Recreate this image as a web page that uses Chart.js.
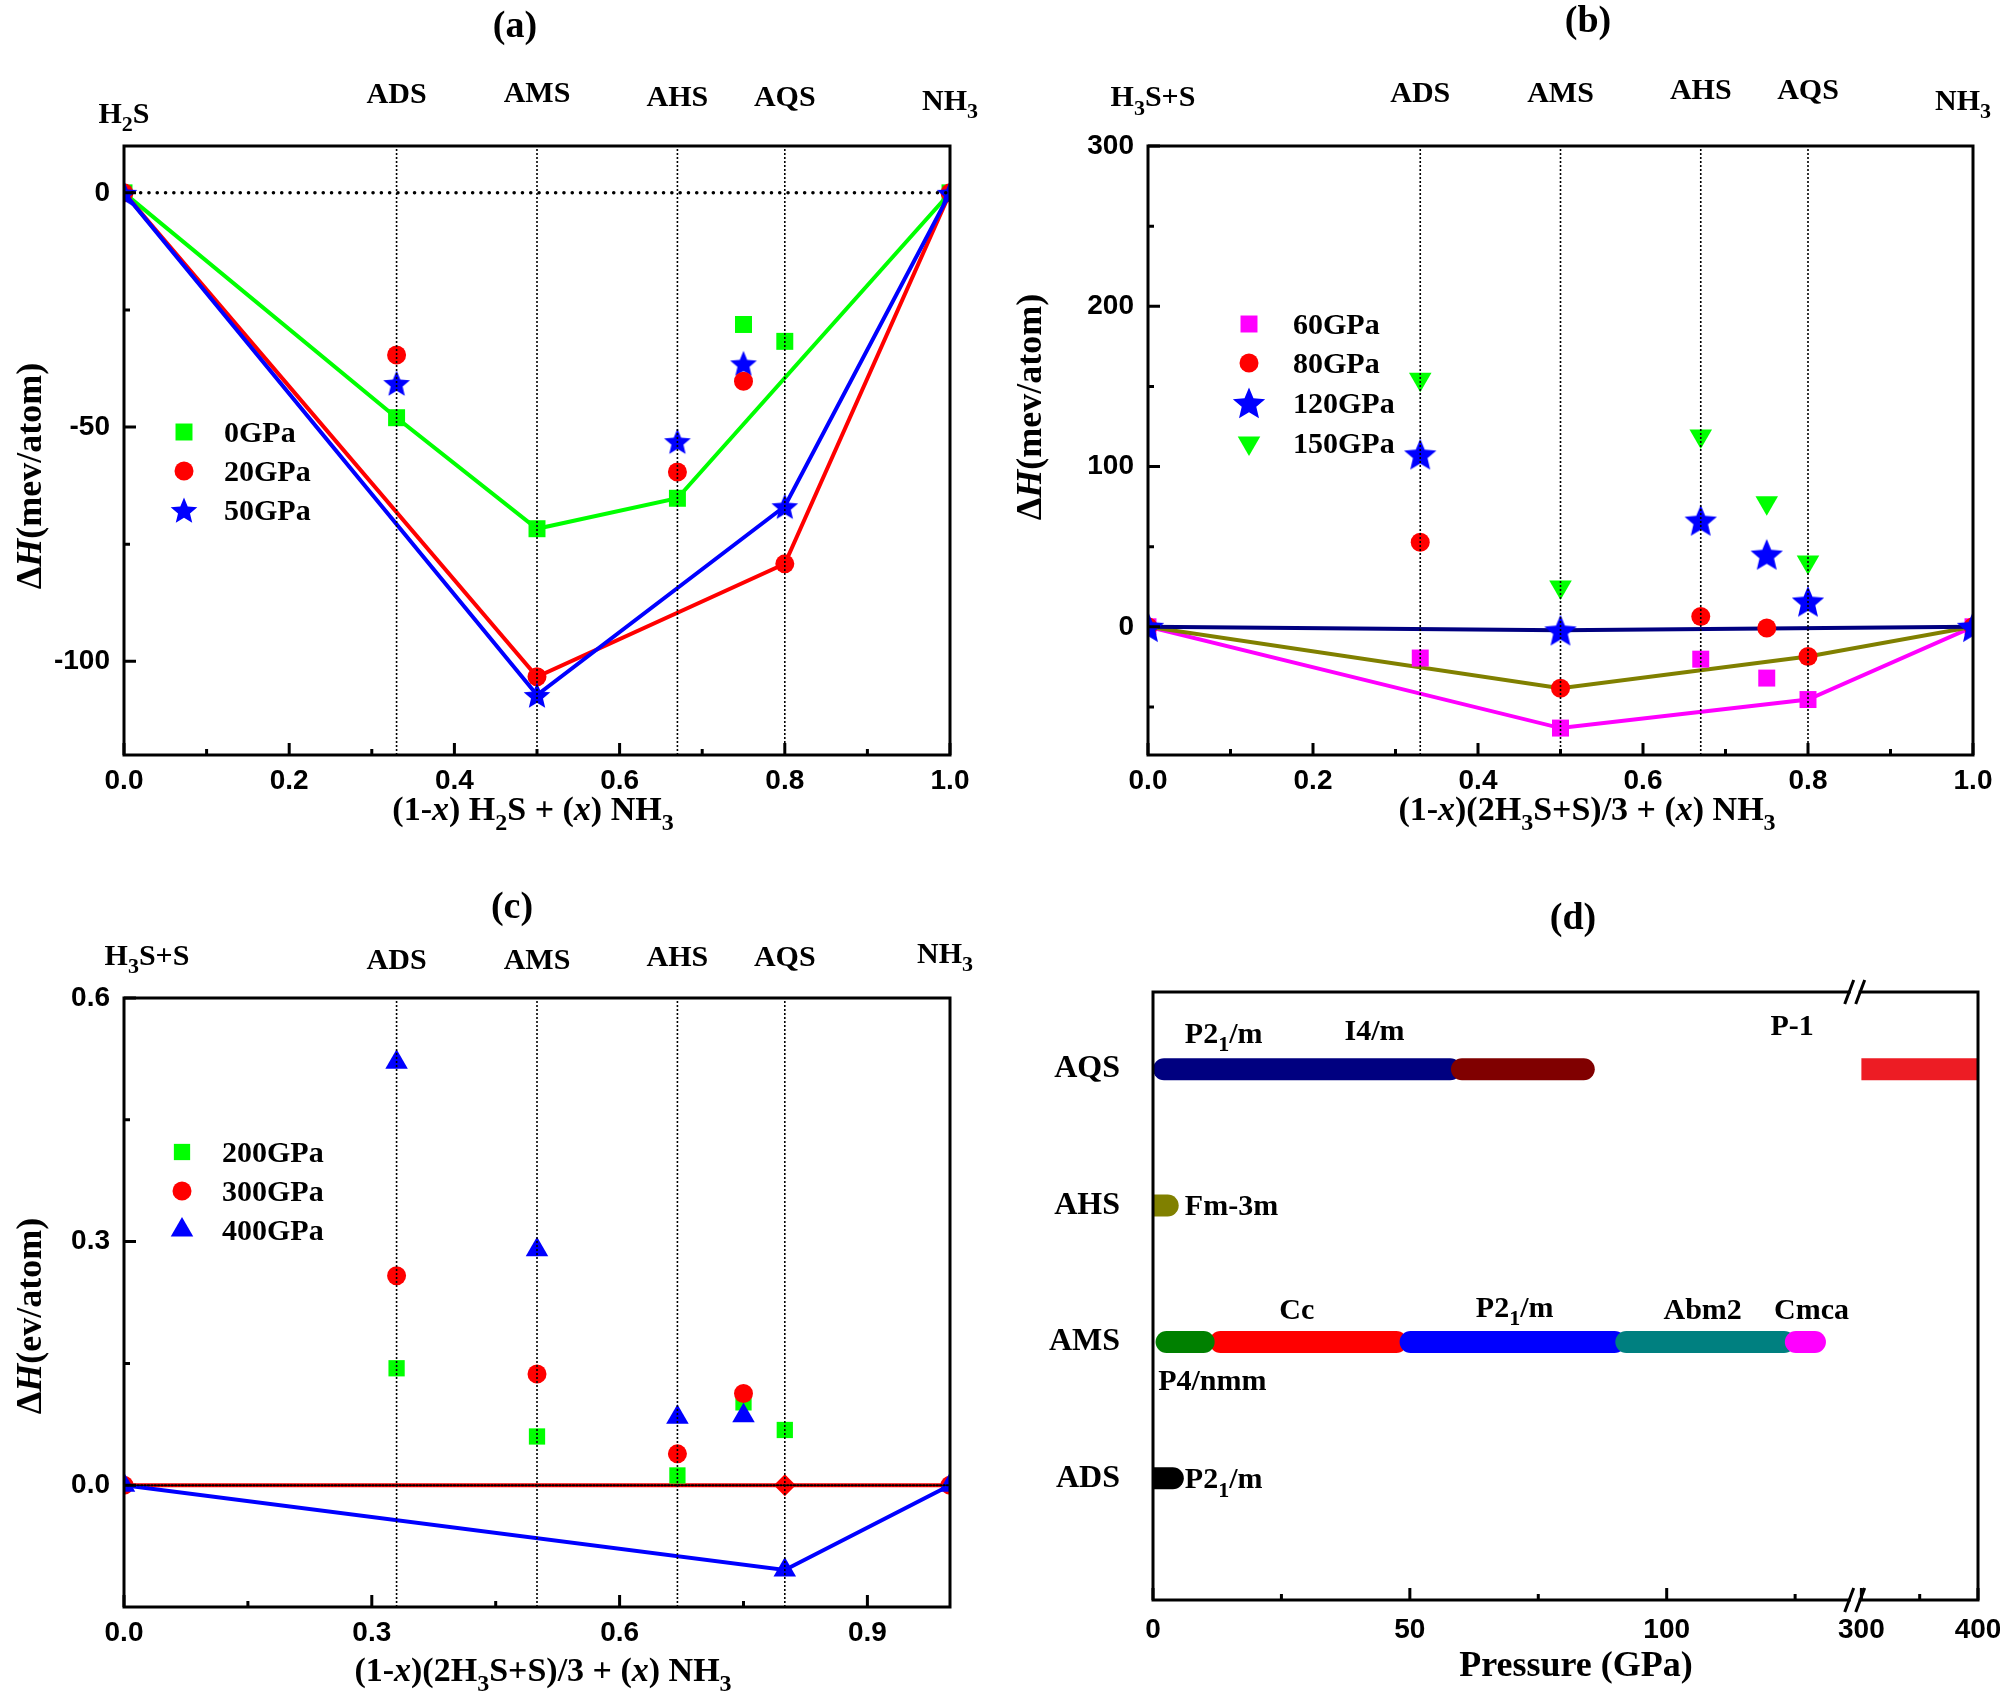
<!DOCTYPE html>
<html><head><meta charset="utf-8">
<script src="https://cdn.jsdelivr.net/npm/chart.js@4.4.0/dist/chart.umd.min.js"></script>
<style>
html,body{margin:0;padding:0;background:#fff;}
#wrap{position:relative;width:2000px;height:1693px;background:#fff;overflow:hidden;}
canvas{position:absolute;}
</style></head><body><div id="wrap">
<canvas id="ca" width="1000" height="846" style="left:0;top:0;width:1000px;height:846px"></canvas>
<canvas id="cb" width="1040" height="846" style="left:1000px;top:0;width:1040px;height:846px"></canvas>
<canvas id="cc" width="1000" height="847" style="left:0;top:846px;width:1000px;height:847px"></canvas>
<canvas id="cd" width="1040" height="847" style="left:1000px;top:846px;width:1040px;height:847px"></canvas>
</div>
<script>
// ---------------- DATA ----------------
// composition labels (top of panels a-c)
const compNamesA = ['H_2S','ADS','AMS','AHS','AQS','NH_3'];
const compNamesBC = ['H_3S+S','ADS','AMS','AHS','AQS','NH_3'];
const compX = [0, 0.33, 0.5, 0.67, 0.8, 1];
const compLinesX = [0.33, 0.5, 0.67, 0.8];

// panel (a)  meV/atom
const aLabels = ['0GPa','20GPa','50GPa'];
const a0HullX = [0, 0.33, 0.5, 0.67, 1];   const a0HullY = [0, -48.0, -71.7, -65.2, 0];
const a0OffX  = [0.75, 0.8];               const a0OffY  = [-28.1, -31.7];
const a20HullX = [0, 0.5, 0.8, 1];         const a20HullY = [0, -103.3, -79.2, 0];
const a20OffX  = [0.33, 0.67, 0.75];       const a20OffY  = [-34.6, -59.6, -40.2];
const a50HullX = [0, 0.5, 0.8, 1];         const a50HullY = [0, -107.2, -66.9, 0];
const a50OffX  = [0.33, 0.67, 0.75];       const a50OffY  = [-40.6, -53.0, -36.4];

// panel (b)  meV/atom
const bLabels = ['60GPa','80GPa','120GPa','150GPa'];
const b60HullX = [0, 0.5, 0.8, 1];         const b60HullY = [0, -63.2, -45.4, 0];
const b60OffX  = [0.33, 0.67, 0.75];       const b60OffY  = [-19.5, -20.2, -32.0];
const b80HullX = [0, 0.5, 0.8, 1];         const b80HullY = [0, -38.3, -18.5, 0];
const b80OffX  = [0.33, 0.67, 0.75];       const b80OffY  = [52.8, 6.4, -0.7];
const b120HullX = [0, 0.5, 1];             const b120HullY = [0, -2.2, 0];
const b120OffX  = [0.33, 0.67, 0.75, 0.8]; const b120OffY  = [107.6, 66.3, 45.1, 15.8];
const b150OffX  = [0.33, 0.5, 0.67, 0.75, 0.8]; const b150OffY = [154.4, 24.9, 119.1, 77.4, 40.4];

// panel (c)  eV/atom
const cLabels = ['200GPa','300GPa','400GPa'];
const c200OffX = [0.33, 0.5, 0.67, 0.75, 0.8]; const c200OffY = [0.144, 0.060, 0.012, 0.102, 0.068];
const c300HullX = [0, 0.8, 1];             const c300HullY = [0, 0, 0];
const c300OffX  = [0.33, 0.5, 0.67, 0.75]; const c300OffY  = [0.258, 0.137, 0.0386, 0.113];
const c400HullX = [0, 0.8, 1];             const c400HullY = [0, -0.1045, 0];
const c400OffX  = [0.33, 0.5, 0.67, 0.75]; const c400OffY  = [0.521, 0.290, 0.0838, 0.0856];

// panel (d)  phase ranges (GPa)
const phaseRows = ['ADS','AMS','AHS','AQS'];
const segRow  = ['AQS','AQS','AQS','AHS','AMS','AMS','AMS','AMS','AMS','ADS'];
const segFrom = [0,   58,  300, 0,  11,   0.5, 48, 90,  123, 0];
const segTo   = [60,  86,  400, 5,  49.5, 12,  92, 125, 131, 6];
const phaseNames = ['P2_1/m','I4/m','P-1','Fm-3m','Cc','P2_1/m','Abm2','Cmca','P4/nmm','P2_1/m'];
const phaseNameRow = ['AQS','AQS','AQS','AHS','AMS','AMS','AMS','AMS','AMS','ADS'];
const phaseNameP   = [6.2, 37.3, 124.4, 6.2, 28, 70.4, 107, 128.2, 1.0, 6.2];
const dTickP  = [0, 50, 100, 300, 400];
const dMinorP = [25, 75, 125, 350];

// ---------------- STYLE / HELPERS ----------------
const SERIF = '"Liberation Serif", "Times New Roman", serif';
const SANS  = '"Liberation Sans", Arial, sans-serif';
// broken axis: 0..137 GPa linear, then 300..400 compressed
function brk(p){ return p <= 200 ? p : 137.9 + (p - 300) * 0.227; }

function makeStar(R, color){
  const c = document.createElement('canvas');
  const s = Math.ceil(2*R + 4); c.width = s; c.height = s;
  const g = c.getContext('2d'); g.fillStyle = color; g.beginPath();
  for (let k = 0; k < 10; k++){
    const rr = (k % 2) ? R*0.45 : R;
    const a = -Math.PI/2 + k*Math.PI/5;
    g.lineTo(s/2 + rr*Math.cos(a), s/2 + 1.5 + rr*Math.sin(a));
  }
  g.closePath(); g.fill(); return c;
}
const mk = (style, r, color, rot=0) => ({style, r, color, rot});

function parseRich(s){
  const segs = []; let it = false, buf = '';
  const flush = () => { if (buf) { segs.push({t:buf, sub:false, it}); buf=''; } };
  for (let i = 0; i < s.length; i++){
    const c = s[i];
    if (c === '*'){ flush(); it = !it; continue; }
    if (c === '_'){ flush(); segs.push({t:s[i+1], sub:true, it}); i++; continue; }
    buf += c;
  }
  flush(); return segs;
}
function drawRich(ctx, s, x, y, size, align, rot, family){
  family = family || SERIF;
  const segs = parseRich(s);
  const font = sg => `${sg.it?'italic ':''}bold ${sg.sub?Math.round(size*0.72):size}px ${family}`;
  let w = 0;
  segs.forEach(sg => { ctx.font = font(sg); sg.w = ctx.measureText(sg.t).width; w += sg.w; });
  ctx.save(); ctx.translate(x, y); if (rot) ctx.rotate(rot);
  let cx = align === 'left' ? 0 : align === 'right' ? -w : -w/2;
  ctx.textBaseline = 'alphabetic'; ctx.textAlign = 'left'; ctx.fillStyle = '#000';
  const base = size*0.33;
  segs.forEach(sg => { ctx.font = font(sg); ctx.fillText(sg.t, cx, base + (sg.sub ? size*0.28 : 0)); cx += sg.w; });
  ctx.restore();
}
function drawMk(ctx, m, x, y){
  ctx.save(); ctx.fillStyle = m.color;
  if (m.style instanceof HTMLCanvasElement){ ctx.drawImage(m.style, x - m.style.width/2, y - m.style.height/2); }
  else if (m.style === 'circle'){ ctx.beginPath(); ctx.arc(x, y, m.r, 0, 2*Math.PI); ctx.fill(); }
  else if (m.style === 'rect'){ const s = m.r*Math.SQRT1_2; ctx.fillRect(x-s, y-s, 2*s, 2*s); }
  else if (m.style === 'rectRot'){ ctx.beginPath(); ctx.moveTo(x-m.r,y); ctx.lineTo(x,y-m.r); ctx.lineTo(x+m.r,y); ctx.lineTo(x,y+m.r); ctx.closePath(); ctx.fill(); }
  else if (m.style === 'triangle'){
    const rot = (m.rot||0)*Math.PI/180; ctx.beginPath();
    for (let k = 0; k < 3; k++){ const a = rot + k*2*Math.PI/3; ctx.lineTo(x + Math.sin(a)*m.r, y - Math.cos(a)*m.r); }
    ctx.closePath(); ctx.fill();
  }
  ctx.restore();
}
const pts = (xs, ys) => xs.map((x, i) => ({x, y: ys[i]}));
function mkOpts(m){
  return { pointStyle: m.style, pointRadius: m.r, pointHoverRadius: m.r, pointRotation: m.rot,
           pointBackgroundColor: m.color, pointBorderColor: m.color, pointBorderWidth: 0 };
}
function hullDS(xs, ys, lineColor, m){
  return Object.assign({ data: pts(xs, ys), showLine: true, borderColor: lineColor, borderWidth: 4, order: 2 }, mkOpts(m));
}
function offDS(xs, ys, m){
  return Object.assign({ data: pts(xs, ys), showLine: false, order: 1 }, mkOpts(m));
}
function vLines(ymin, ymax){
  return compLinesX.map(x => ({ data: [{x, y: ymin}, {x, y: ymax}], showLine: true, borderColor: '#000',
    borderWidth: 1.6, borderDash: [2, 2], pointRadius: 0, order: -1 }));
}
function zeroLine(w, dash){
  return { data: [{x:0, y:0}, {x:1, y:0}], showLine: true, borderColor: '#000', borderWidth: w,
    borderDash: dash, borderCapStyle: 'round', pointRadius: 0, order: -1 };
}

const DECOR = {};
const decorPlugin = {
  id: 'decor',
  afterDatasetsDraw(chart){
    const o = DECOR[chart.canvas.id]; if (!o) return;
    const ctx = chart.ctx; const {left, top, right, bottom} = chart.chartArea;
    const xs = chart.scales.x, ys = chart.scales.y;
    const map = o.xMap || (v => v);
    ctx.save();
    ctx.strokeStyle = '#000'; ctx.lineWidth = 3; ctx.lineCap = 'butt';
    ctx.beginPath();
    (o.xMajor||[]).forEach(v => { const p = xs.getPixelForValue(map(v)); ctx.moveTo(p, bottom); ctx.lineTo(p, bottom-12); });
    (o.xMinor||[]).forEach(v => { const p = xs.getPixelForValue(map(v)); ctx.moveTo(p, bottom); ctx.lineTo(p, bottom-6); });
    (o.yMajor||[]).forEach(v => { const p = ys.getPixelForValue(v); ctx.moveTo(left, p); ctx.lineTo(left+12, p); });
    (o.yMinor||[]).forEach(v => { const p = ys.getPixelForValue(v); ctx.moveTo(left, p); ctx.lineTo(left+6, p); });
    ctx.stroke();
    ctx.strokeRect(left, top, right-left, bottom-top);
    if (o.breakP != null){
      const xb = xs.getPixelForValue(o.breakP);
      [top, bottom].forEach(yy => {
        ctx.fillStyle = '#fff'; ctx.fillRect(xb-4, yy-3, 8, 6);
        ctx.beginPath();
        ctx.moveTo(xb-10, yy+12); ctx.lineTo(xb-1, yy-12);
        ctx.moveTo(xb+1, yy+12); ctx.lineTo(xb+10, yy-12);
        ctx.stroke();
      });
    }
    (o.texts||[]).forEach(t => {
      const px = t.xv != null ? xs.getPixelForValue(map(t.xv)) + (t.dx||0) : t.x;
      const py = t.row != null ? ys.getPixelForValue(t.row) + (t.dy||0) : t.y;
      drawRich(ctx, t.s, px, py, t.size, t.align || 'center', t.rot || 0);
    });
    if (o.legend){
      const L = o.legend;
      L.items.forEach((it, i) => { drawMk(ctx, it.m, L.mx, L.y[i]); drawRich(ctx, it.label, L.tx, L.y[i], L.size, 'left'); });
    }
    ctx.restore();
  }
};

function tickFont(fam, size){ return { family: fam, size: size, weight: 'bold' }; }
function scatterPanel(id, W, H, area, xr, yr, xTicks, yTicks, xFmt, yFmt, datasets){
  return new Chart(document.getElementById(id), {
    type: 'scatter',
    data: { datasets },
    options: {
      responsive: false, animation: false, devicePixelRatio: 1, events: [],
      layout: { autoPadding: false, padding: { left: 0, top: area.top, right: W - area.right, bottom: 0 } },
      plugins: { legend: { display: false }, tooltip: { enabled: false } },
      scales: {
        x: { type: 'linear', min: xr[0], max: xr[1],
             afterBuildTicks: s => { s.ticks = xTicks.map(v => ({value: v})); },
             afterFit: s => { s.height = H - area.bottom; },
             grid: { display: false, drawTicks: false }, border: { display: false },
             ticks: { font: tickFont(SANS, 28), color: '#000', padding: 9, autoSkip: false, maxRotation: 0, callback: v => xFmt(v) } },
        y: { type: 'linear', min: yr[0], max: yr[1],
             afterBuildTicks: s => { s.ticks = yTicks.map(v => ({value: v})); },
             afterFit: s => { s.width = area.left; },
             grid: { display: false, drawTicks: false }, border: { display: false },
             ticks: { font: tickFont(SANS, 28), color: '#000', padding: 14, autoSkip: false, callback: v => yFmt(v) } }
      }
    },
    plugins: [decorPlugin]
  });
}
const f1 = v => Number(v).toFixed(1);
const f0 = v => String(Math.round(v));

// ---------------- PANEL (a) ----------------
const starA = makeStar(14, '#0000ff');
const A_MK = [mk('rect', 12, '#00ff00'), mk('circle', 9.5, '#ff0000'), mk(starA, 14, '#0000ff')];
DECOR.ca = {
  xMajor: [0, 0.2, 0.4, 0.6, 0.8, 1], xMinor: [0.1, 0.3, 0.5, 0.7, 0.9],
  yMajor: [0, -50, -100], yMinor: [-25, -75],
  texts: [
    {s:'(a)', x:515, y:24, size:38},
    ...compNamesA.map((s, i) => ({s, xv: compX[i], y: [113, 93, 92.5, 96, 96, 100][i], size: 30})),
    {s:'(1-*x*) H_2S + (*x*) NH_3', x:533, y:809, size:34},
    {s:'Δ*H*(mev/atom)', x:29, y:476, size:36, rot:-Math.PI/2}
  ],
  legend: { mx:184, tx:224, y:[432, 471, 510], size:30, items: aLabels.map((l, i) => ({label:l, m:A_MK[i]})) }
};
scatterPanel('ca', 1000, 846, {left:124, top:146, right:950, bottom:755}, [0, 1], [-120, 10],
  [0, 0.2, 0.4, 0.6, 0.8, 1], [0, -50, -100], f1, f0, [
    ...vLines(-120, 10), zeroLine(3.5, [0.1, 8.2]),
    offDS(a0OffX, a0OffY, A_MK[0]), offDS(a20OffX, a20OffY, A_MK[1]), offDS(a50OffX, a50OffY, A_MK[2]),
    hullDS(a50HullX, a50HullY, '#0000ff', A_MK[2]), hullDS(a20HullX, a20HullY, '#ff0000', A_MK[1]),
    hullDS(a0HullX, a0HullY, '#00ff00', A_MK[0])
  ]);

// ---------------- PANEL (b) ----------------
const starB = makeStar(17, '#0000ff');
const B_MK = [mk('rect', 12, '#ff00ff'), mk('circle', 9.5, '#ff0000'), mk(starB, 17, '#0000ff'), mk('triangle', 13, '#00ff00', 180)];
DECOR.cb = {
  xMajor: [0, 0.2, 0.4, 0.6, 0.8, 1], xMinor: [0.1, 0.3, 0.5, 0.7, 0.9],
  yMajor: [0, 100, 200, 300], yMinor: [-50, 50, 150, 250],
  texts: [
    {s:'(b)', x:588, y:19, size:38},
    ...compNamesBC.map((s, i) => ({s, xv: compX[i], dx: [5, 0, 0, 0, 0, -10][i], y: [96.5, 92, 92, 89, 89, 100][i], size: 30})),
    {s:'(1-*x*)(2H_3S+S)/3 + (*x*) NH_3', x:587, y:809, size:34},
    {s:'Δ*H*(mev/atom)', x:29, y:407, size:36, rot:-Math.PI/2}
  ],
  legend: { mx:249, tx:293, y:[324, 363, 403, 443], size:30, items: bLabels.map((l, i) => ({label:l, m:B_MK[i]})) }
};
scatterPanel('cb', 1040, 846, {left:148, top:146, right:973, bottom:755}, [0, 1], [-80, 300],
  [0, 0.2, 0.4, 0.6, 0.8, 1], [0, 100, 200, 300], f1, f0, [
    ...vLines(-80, 300),
    offDS(b150OffX, b150OffY, B_MK[3]), offDS(b120OffX, b120OffY, B_MK[2]),
    offDS(b80OffX, b80OffY, B_MK[1]), offDS(b60OffX, b60OffY, B_MK[0]),
    hullDS(b120HullX, b120HullY, '#000080', B_MK[2]), hullDS(b80HullX, b80HullY, '#808000', B_MK[1]),
    hullDS(b60HullX, b60HullY, '#ff00ff', B_MK[0])
  ]);

// ---------------- PANEL (c) ----------------
const C_MK = [mk('rect', 11.5, '#00ff00'), mk('circle', 9.5, '#ff0000'), mk('triangle', 13, '#0000ff')];
const c300Hull = hullDS(c300HullX, c300HullY, '#ff0000', C_MK[1]);
c300Hull.pointStyle = ['circle', 'rectRot', 'circle'];
c300Hull.pointRadius = [9.5, 11, 9.5];
DECOR.cc = {
  xMajor: [0, 0.3, 0.6, 0.9], xMinor: [0.15, 0.45, 0.75],
  yMajor: [0, 0.3, 0.6], yMinor: [0.15, 0.45],
  texts: [
    {s:'(c)', x:512, y:59, size:38},
    ...compNamesBC.map((s, i) => ({s, xv: compX[i], dx: [23, 0, 0, 0, 0, -5][i], y: [109, 113, 113, 110, 110, 107][i], size: 30})),
    {s:'(1-*x*)(2H_3S+S)/3 + (*x*) NH_3', x:543, y:824, size:34},
    {s:'Δ*H*(ev/atom)', x:29, y:470, size:36, rot:-Math.PI/2}
  ],
  legend: { mx:182, tx:222, y:[306, 345, 384], size:30, items: cLabels.map((l, i) => ({label:l, m:C_MK[i]})) }
};
scatterPanel('cc', 1000, 847, {left:124, top:152, right:950, bottom:761}, [0, 1], [-0.15, 0.6],
  [0, 0.3, 0.6, 0.9], [0, 0.3, 0.6], f1, f1, [
    ...vLines(-0.15, 0.6), zeroLine(2, [1.4, 2]),
    offDS(c400OffX, c400OffY, C_MK[2]), offDS(c300OffX, c300OffY, C_MK[1]), offDS(c200OffX, c200OffY, C_MK[0]),
    hullDS(c400HullX, c400HullY, '#0000ff', C_MK[2]), c300Hull
  ]);

// ---------------- PANEL (d) ----------------
const segColor = ['#000080','#800000','#ed1c24','#808000','#ff0000','#008000','#0000ff','#008080','#ff00ff','#000000'];
const segRound = ['both','both','none','right','both','both','both','both','both','right'];
const segOrder = [3, 1, 1, 1, 5, 1, 4, 3, 2, 1];
const R = 11;
const dDatasets = segRow.map((r, i) => ({
  data: [{ x: [brk(segFrom[i]), brk(segTo[i])], y: phaseRows.indexOf(r) }],
  backgroundColor: segColor[i], borderWidth: 0, borderSkipped: false,
  borderRadius: segRound[i] === 'both' ? R : segRound[i] === 'right' ? {topLeft:0, bottomLeft:0, topRight:R, bottomRight:R} : 0,
  barThickness: 22, grouped: false, order: segOrder[i], inflateAmount: 0
}));
DECOR.cd = {
  xMap: brk, xMajor: dTickP, xMinor: dMinorP, breakP: 136.6,
  texts: [
    {s:'(d)', x:573, y:70, size:38},
    {s:'Pressure (GPa)', x:576, y:818, size:36},
    ...phaseNames.map((s, i) => ({s, xv: phaseNameP[i], row: phaseRows.indexOf(phaseNameRow[i]),
      dy: [-36, -39, -44, 0, -33, -35, -33, -33, 38, 0][i],
      align: ['left','left','center','left','center','center','center','center','left','left'][i], size: 30}))
  ]
};
new Chart(document.getElementById('cd'), {
  type: 'bar',
  data: { datasets: dDatasets },
  options: {
    indexAxis: 'y', responsive: false, animation: false, devicePixelRatio: 1, events: [],
    layout: { autoPadding: false, padding: { left: 0, top: 146, right: 1040 - 978, bottom: 0 } },
    plugins: { legend: { display: false }, tooltip: { enabled: false } },
    scales: {
      x: { type: 'linear', min: 0, max: brk(400), offset: false,
           afterBuildTicks: s => { s.ticks = dTickP.map(p => ({value: brk(p)})); },
           afterFit: s => { s.height = 847 - 754; },
           grid: { display: false, drawTicks: false, offset: false }, border: { display: false },
           ticks: { font: tickFont(SANS, 28), color: '#000', padding: 13, autoSkip: false, maxRotation: 0,
                    callback: (v, i) => String(dTickP[i]) } },
      y: { type: 'linear', min: -0.892, max: 3.566, offset: false,
           afterBuildTicks: s => { s.ticks = phaseRows.map((r, i) => ({value: i})); },
           afterFit: s => { s.width = 153; },
           grid: { display: false, drawTicks: false, offset: false }, border: { display: false },
           ticks: { font: tickFont(SERIF, 32), color: '#000', padding: 33, autoSkip: false,
                    callback: (v, i) => phaseRows[i] } }
    }
  },
  plugins: [decorPlugin]
});
</script>
</body></html>
